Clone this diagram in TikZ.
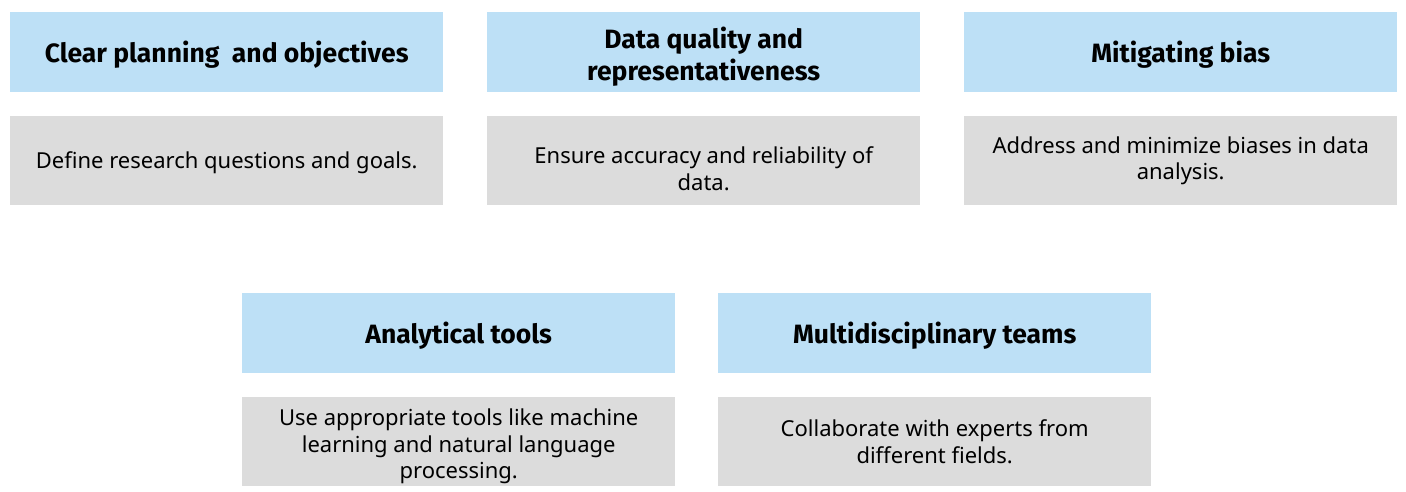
\documentclass[tikz,border=0pt]{standalone}
\usepackage{fontspec}
\setmainfont{Noto Sans}
\newfontfamily\headfont{Fira Sans}
\definecolor{headblue}{HTML}{BDE0F6}
\definecolor{bodygray}{HTML}{DCDCDC}
\begin{document}
\begin{tikzpicture}[x=1pt,y=-1pt,
  headbox/.style={fill=headblue,draw=none,minimum width=433pt,minimum height=80pt,inner sep=0pt,anchor=north west},
  bodybox/.style={fill=bodygray,draw=none,minimum width=433pt,minimum height=89pt,inner sep=0pt,anchor=north west},
  headtext/.style={inner sep=0pt,align=center,font=\headfont\bfseries\fontsize{26.5}{32}\selectfont},
  bodytext/.style={inner sep=0pt,align=center,font=\fontsize{22}{26.5}\selectfont}]
\useasboundingbox (0,0) rectangle (1406,492);
\node[headbox] (h1) at (10,12) {};
\node[headbox] (h2) at (487,12) {};
\node[headbox] (h3) at (964,12) {};
\node[bodybox] (b1) at (10,116) {};
\node[bodybox] (b2) at (487,116) {};
\node[bodybox] (b3) at (964,116) {};
\node[headbox] (h4) at (242,293) {};
\node[headbox] (h5) at (718,293) {};
\node[bodybox] (b4) at (242,397) {};
\node[bodybox] (b5) at (718,397) {};
\node[headtext,yshift=-2pt] (th1) at (h1.center) {Clear planning\ \ and objectives};
\node[headtext,yshift=-4pt] (th2) at (h2.center) {Data quality and\\representativeness};
\node[headtext,yshift=-2pt] (th3) at (h3.center) {Mitigating bias};
\node[bodytext,yshift=-2pt] (tb1) at (b1.center) {Define research questions and goals.};
\node[bodytext,yshift=-8pt] (tb2) at (b2.center) {Ensure accuracy and reliability of\\data.};
\node[bodytext] (tb3) at (b3.center) {Address and minimize biases in data\\analysis.};
\node[headtext,yshift=-2pt] (th4) at (h4.center) {Analytical tools};
\node[headtext,yshift=-2pt] (th5) at (h5.center) {Multidisciplinary teams};
\node[bodytext,yshift=-5pt] (tb4) at (b4.center) {Use appropriate tools like machine\\learning and natural language\\processing.};
\node[bodytext] (tb5) at (b5.center) {Collaborate with experts from\\different fields.};
\end{tikzpicture}
\end{document}
